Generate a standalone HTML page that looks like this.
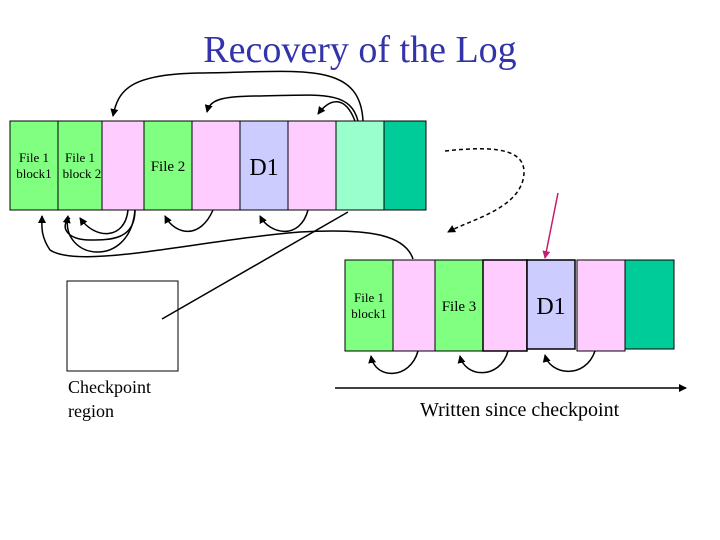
<!DOCTYPE html>
<html><head><style>body{margin:0;background:#fff}svg{display:block}</style></head><body>
<svg width="720" height="540" xmlns="http://www.w3.org/2000/svg" font-family="Liberation Serif, serif">
<defs>
<marker id="a" markerWidth="8" markerHeight="8" refX="7" refY="4" orient="auto" markerUnits="userSpaceOnUse"><path d="M0,0 L8,4 L0,8 Z" fill="#000"/></marker>
<marker id="m" markerWidth="8" markerHeight="8" refX="7" refY="4" orient="auto" markerUnits="userSpaceOnUse"><path d="M0,0 L8,4 L0,8 Z" fill="#c02070"/></marker>
</defs>
<text x="360" y="62" font-size="38" fill="#3333aa" text-anchor="middle">Recovery of the Log</text>
<g stroke="#000" stroke-width="1">
<rect x="10" y="121" width="48" height="89" fill="#80ff80"/>
<rect x="58" y="121" width="44" height="89" fill="#80ff80"/>
<rect x="102" y="121" width="42" height="89" fill="#ffccff"/>
<rect x="144" y="121" width="48" height="89" fill="#80ff80"/>
<rect x="192" y="121" width="48" height="89" fill="#ffccff"/>
<rect x="240" y="121" width="48" height="89" fill="#ccccff"/>
<rect x="288" y="121" width="48" height="89" fill="#ffccff"/>
<rect x="336" y="121" width="48" height="89" fill="#99ffcc"/>
<rect x="384" y="121" width="42" height="89" fill="#00cc99"/>
<rect x="345" y="260" width="48" height="91" fill="#80ff80"/>
<rect x="393" y="260" width="42" height="91" fill="#ffccff"/>
<rect x="435" y="260" width="48" height="91" fill="#80ff80"/>
<rect x="483" y="260" width="44" height="91" fill="#ffccff" stroke-width="1.5"/>
<rect x="527" y="260" width="48" height="89" fill="#ccccff" stroke-width="1.5"/>
<rect x="577" y="260" width="48" height="91" fill="#ffccff"/>
<rect x="625" y="260" width="49" height="89" fill="#00cc99"/>
<rect x="67" y="281" width="111" height="90" fill="#fff"/>
</g>
<g font-size="13" text-anchor="middle">
<text x="34" y="162">File 1</text><text x="34" y="178">block1</text>
<text x="80" y="162">File 1</text><text x="82" y="178">block 2</text>
<text x="168" y="171" font-size="15">File 2</text>
<text x="264" y="175" font-size="24">D1</text>
<text x="369" y="302">File 1</text><text x="369" y="318">block1</text>
<text x="459" y="311" font-size="15">File 3</text>
<text x="551" y="314" font-size="24">D1</text>
</g>
<text x="68" y="393" font-size="18">Checkpoint</text>
<text x="68" y="417" font-size="18">region</text>
<text x="420" y="416" font-size="20">Written since checkpoint</text>
<g fill="none" stroke="#000" stroke-width="1.5">
<path d="M363,121 C360,60 300,72 200,73 C130,74 118,90 113,116" marker-end="url(#a)"/>
<path d="M358,121 C350,90 320,95 260,96 C220,96 210,100 207,112" marker-end="url(#a)"/>
<path d="M355,121 C345,95 330,98 318,114" marker-end="url(#a)"/>
<path d="M128,210 C125,240 95,240 80,218" marker-end="url(#a)"/>
<path d="M135,210 C135,240 110,240 90,240 C65,240 60,225 70,218" />
<path d="M135,210 C130,270 60,260 68,216" marker-end="url(#a)"/>
<path d="M213,210 C200,240 175,235 165,216" marker-end="url(#a)"/>
<path d="M308,210 C300,240 270,235 260,216" marker-end="url(#a)"/>
<path d="M413,259 C405,235 370,228 300,232 C200,240 80,270 50,250 C40,235 42,225 42,216" marker-end="url(#a)"/>
<path d="M348,212 L162,319"/>
<path d="M418,351 C410,380 375,380 371,356" marker-end="url(#a)"/>
<path d="M508,351 C500,380 465,378 460,356" marker-end="url(#a)"/>
<path d="M595,351 C585,380 550,375 545,355" marker-end="url(#a)"/>
<path d="M445,151 C500,145 530,150 523,180 C515,210 470,220 448,232" stroke-dasharray="4,3" marker-end="url(#a)"/>
<path d="M335,388 L686,388" marker-end="url(#a)"/>
</g>
<path d="M558,193 L545,258" stroke="#c02070" stroke-width="1.5" marker-end="url(#m)"/>
</svg>
</body></html>
